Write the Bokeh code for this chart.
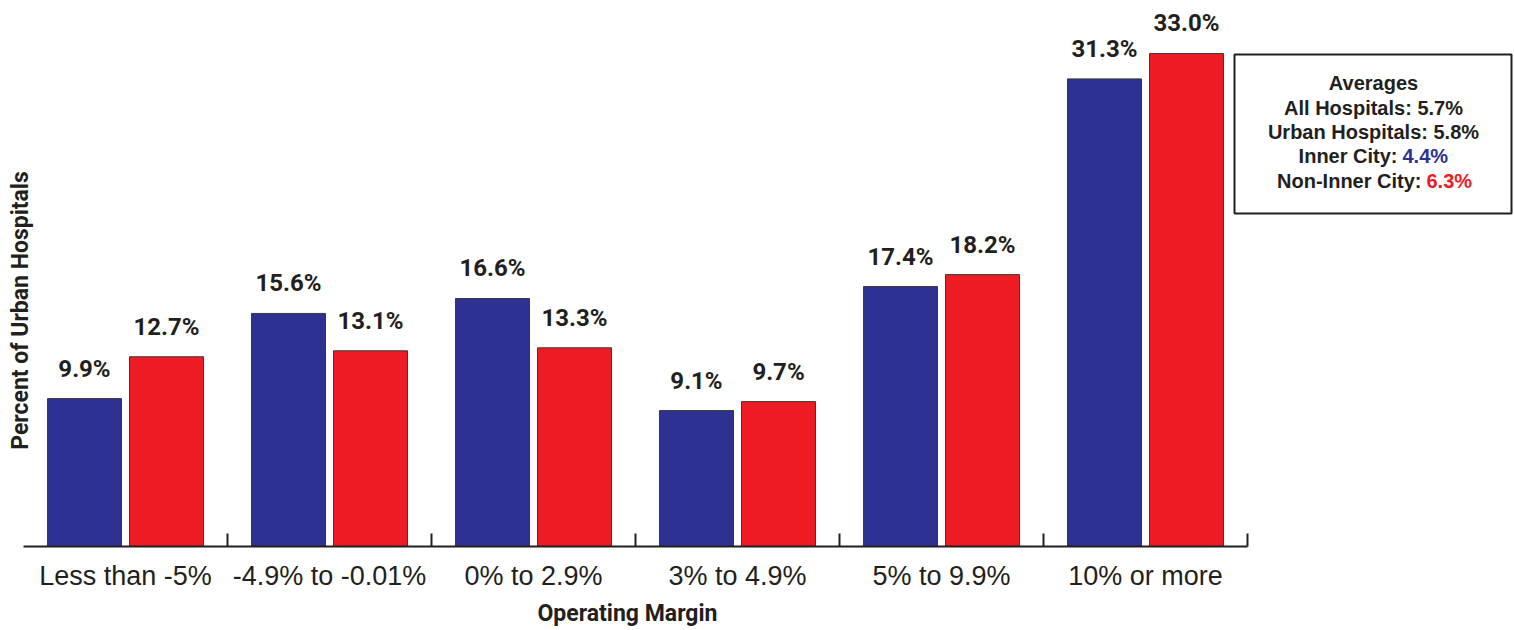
import math
from bokeh.plotting import figure
from bokeh.models import Range1d, Label, BoxAnnotation, ColumnDataSource
from bokeh.transform import dodge
from bokeh.core.properties import value
from bokeh.embed import file_html
from bokeh.resources import INLINE

# ---- data ----
categories = ["Less than -5%", "-4.9% to -0.01%", "0% to 2.9%", "3% to 4.9%", "5% to 9.9%", "10% or more"]
inner_city = [9.9, 15.6, 16.6, 9.1, 17.4, 31.3]
non_inner_city = [12.7, 13.1, 13.3, 9.7, 18.2, 33.0]
avg_all = 5.7
avg_urban = 5.8
avg_inner = 4.4
avg_non_inner = 6.3
x_title = "Operating Margin"
y_title = "Percent of Urban Hospitals"

# ---- style / geometry ----
BLUE = "#2E3192"
RED = "#ED1C24"
INK = "#231F20"
W, H = 1514, 630
PXX = 204.0      # px per group
PXY = 14.94      # px per percent
X_LEFT = 23      # px where group 0 starts
BASE_Y = 546     # px of the zero line
TS = 8           # text baseline correction (px)
COND = value("Roboto")
SANS = value("Liberation Sans")


def dx(cx):
    return (cx - X_LEFT) / PXX


def dy(cy):
    return (BASE_Y - cy) / PXY


n = len(categories)
centers = [i + 0.5 for i in range(n)]

p = figure(width=W, height=H, output_backend="svg", toolbar_location=None,
           x_range=Range1d(dx(0), dx(W)), y_range=Range1d(dy(H), dy(0)),
           x_axis_location=None, y_axis_location=None,
           min_border_left=0, min_border_right=0, min_border_top=0, min_border_bottom=0)
p.grid.visible = False
p.outline_line_color = None
p.background_fill_color = "white"
p.border_fill_color = "white"

src = ColumnDataSource(dict(
    x=centers,
    inner=inner_city,
    non=non_inner_city,
    inner_lbl=[f"{v:.1f}%" for v in inner_city],
    non_lbl=[f"{v:.1f}%" for v in non_inner_city],
    inner_ty=[v + (22 + TS) / PXY for v in inner_city],
    non_ty=[v + (22 + TS) / PXY for v in non_inner_city],
))

off = 0.201
bw = 74 / PXX
p.vbar(x=dodge("x", -off), top="inner", bottom=0, width=bw, source=src,
       fill_color=BLUE, line_color="#3a3a3a", line_width=1)
p.vbar(x=dodge("x", off), top="non", bottom=0, width=bw, source=src,
       fill_color=RED, line_color="#3a3a3a", line_width=1)

p.text(x=dodge("x", -off), y="inner_ty", text="inner_lbl", source=src,
       text_align="center", text_baseline="alphabetic", text_font=COND,
       text_font_style="bold", text_font_size="24px", text_color=INK)
p.text(x=dodge("x", off), y="non_ty", text="non_lbl", source=src,
       text_align="center", text_baseline="alphabetic", text_font=COND,
       text_font_style="bold", text_font_size="24px", text_color=INK)

# category axis: baseline, boundary ticks, category labels
p.segment(x0=[0], y0=[0], x1=[n], y1=[0], line_color=INK, line_width=2)
bounds = [i + 1 for i in range(n)]
p.segment(x0=bounds, y0=[0] * n, x1=bounds, y1=[13 / PXY] * n, line_color=INK, line_width=2)
cat_src = ColumnDataSource(dict(x=centers, y=[dy(583 - TS)] * n, t=categories))
p.text(x="x", y="y", text="t", source=cat_src, text_align="center",
       text_baseline="alphabetic", text_font=SANS, text_font_size="27px", text_color=INK)

# axis titles
p.add_layout(Label(x=dx(627), y=dy(621 - TS), text=x_title, text_align="center",
                   text_baseline="alphabetic", text_font="Roboto",
                   text_font_style="bold", text_font_size="23px", text_color=INK))
p.add_layout(Label(x=dx(28 - TS), y=dy(310), text=y_title, angle=math.pi / 2,
                   text_align="center", text_baseline="alphabetic",
                   text_font="Roboto", text_font_style="bold",
                   text_font_size="23px", text_color=INK))

# averages box
p.add_layout(BoxAnnotation(left=dx(1234), right=dx(1511), top=dy(54), bottom=dy(213),
                           fill_color="white", fill_alpha=1.0,
                           line_color=INK, line_alpha=1.0, line_width=2))

LF = dict(text_font="Liberation Sans", text_font_style="bold",
          text_font_size="20px", text_baseline="alphabetic")
cx = 1373
p.add_layout(Label(x=dx(cx), y=dy(90 - TS), text="Averages", text_align="center", text_color=INK, **LF))
p.add_layout(Label(x=dx(cx), y=dy(115.5 - TS), text=f"All Hospitals: {avg_all:.1f}%",
                   text_align="center", text_color=INK, **LF))
p.add_layout(Label(x=dx(cx), y=dy(139.5 - TS), text=f"Urban Hospitals: {avg_urban:.1f}%",
                   text_align="center", text_color=INK, **LF))
p.add_layout(Label(x=dx(1397), y=dy(163.5 - TS), text="Inner City:", text_align="right",
                   text_color=INK, **LF))
p.add_layout(Label(x=dx(1402), y=dy(163.5 - TS), text=f"{avg_inner:.1f}%", text_align="left",
                   text_color=BLUE, **LF))
p.add_layout(Label(x=dx(1421), y=dy(188 - TS), text="Non-Inner City:", text_align="right",
                   text_color=INK, **LF))
p.add_layout(Label(x=dx(1426), y=dy(188 - TS), text=f"{avg_non_inner:.1f}%", text_align="left",
                   text_color=RED, **LF))

open("out.html", "w").write(file_html(p, INLINE))
